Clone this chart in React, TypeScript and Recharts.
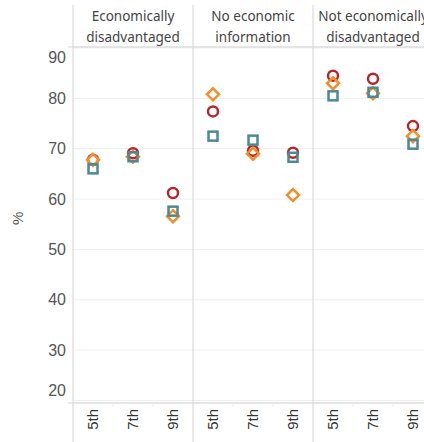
import React from "react";
import { ComposedChart, Scatter, XAxis, YAxis, CartesianGrid, usePlotArea } from "recharts";

const panels = ["Economically disadvantaged", "No economic information", "Not economically disadvantaged"];
const panelHeaderLines = [
  ["Economically", "disadvantaged"],
  ["No economic", "information"],
  ["Not economically", "disadvantaged"],
];
const grades = ["5th", "7th", "9th"];

// one value per panel/grade, in reading order
const circleValues = [67.8, 69.1, 61.2, 77.4, 69.6, 69.2, 84.5, 83.9, 74.5];
const diamondValues = [67.8, 68.4, 56.6, 80.8, 69.0, 60.8, 83.0, 81.0, 72.5];
const squareValues = [66.0, 68.4, 57.6, 72.5, 71.7, 68.3, 80.5, 81.2, 70.9];

const yTicks = [20, 30, 40, 50, 60, 70, 80, 90];

const data = panels.flatMap((panel, i) =>
  grades.map((grade, j) => ({
    key: panel + "|" + grade,
    panel,
    grade,
    circle: circleValues[i * 3 + j],
    diamond: diamondValues[i * 3 + j],
    square: squareValues[i * 3 + j],
  }))
);

const RED = "#b8262d";
const ORANGE = "#f28e2b";
const TEAL = "#4b8a94";
const LINE = "#d3d3d3";
const SANS = "Liberation Sans, Arial, sans-serif";

const CircleShape = (p: any) => (
  <circle cx={p.cx} cy={p.cy} r={5} fill="none" stroke={RED} strokeWidth={2.5} />
);
const DiamondShape = (p: any) => {
  const s = 6;
  return (
    <path
      d={`M${p.cx},${p.cy - s}L${p.cx + s},${p.cy}L${p.cx},${p.cy + s}L${p.cx - s},${p.cy}Z`}
      fill="none"
      stroke={ORANGE}
      strokeWidth={2.5}
    />
  );
};
const SquareShape = (p: any) => (
  <rect x={p.cx - 4.5} y={p.cy - 4.5} width={9} height={9} fill="none" stroke={TEAL} strokeWidth={2.5} />
);

const YTick = ({ x, y, payload }: any) => {
  const v = payload.value;
  const shift = v === 90 ? 9 : v === 20 ? -10 : 0;
  return (
    <text x={x + 1} y={y + shift} dy="0.35em" textAnchor="end" fill="#555" style={{ fontSize: 16, fontFamily: SANS }}>
      {v}
    </text>
  );
};

const GradeTick = ({ x, y, payload }: any) => {
  const g = payload.value.split("|")[1];
  const ty = y - 2;
  return (
    <text
      x={x}
      y={ty}
      dy="0.35em"
      textAnchor="end"
      transform={`rotate(-90, ${x}, ${ty})`}
      fill="#333"
      style={{ fontSize: 15, fontFamily: SANS }}
    >
      {g}
    </text>
  );
};

const PanelTick = ({ x, payload }: any) => {
  const idx = panels.indexOf(payload.value);
  const lines = panelHeaderLines[idx] || [payload.value];
  return (
    <text x={x} textAnchor="middle" fill="#444" style={{ fontSize: 13.5, fontFamily: "Noto Sans, sans-serif" }}>
      {lines.map((l, k) => (
        <tspan key={k} x={x} y={21 + k * 21}>
          {l}
        </tspan>
      ))}
    </text>
  );
};

function Frame() {
  const area = usePlotArea();
  if (!area) return null;
  const { x, y, width, height } = area;
  const cols = [0, 1, 2, 3].map((i) => x + (i * width) / 3);
  const bands = [1, 2, 4, 5, 7, 8].map((i) => x + (i * width) / 9);
  return (
    <g>
      <line x1={x - 5} x2={x + width} y1={y} y2={y} stroke={LINE} />
      <line x1={x - 5} x2={x + width} y1={y + height} y2={y + height} stroke={LINE} />
      {bands.map((bx, i) => (
        <line key={"b" + i} x1={bx} x2={bx} y1={y + height} y2={y + height + 4} stroke="#ececec" />
      ))}
      {cols.map((cx, i) => (
        <line key={i} x1={cx} x2={cx} y1={5} y2={442} stroke={LINE} />
      ))}
    </g>
  );
}

export default function App() {
  return (
    <div style={{ position: "absolute", left: 0, top: 0, width: 424, height: 442, overflow: "hidden", background: "#fff" }}>
      <ComposedChart width={433} height={442} data={data} margin={{ top: 5, right: 0, bottom: 0, left: 0 }}>
        <CartesianGrid horizontal vertical={false} stroke="#efefef" xAxisId="grade" />
        <XAxis
          xAxisId="grade"
          dataKey="key"
          type="category"
          scale="band"
          height={39}
          tick={<GradeTick />}
          tickLine={false}
          axisLine={false}
          interval={0}
        />
        <XAxis
          xAxisId="panel"
          dataKey="panel"
          orientation="top"
          type="category"
          scale="band"
          allowDuplicatedCategory={false}
          ticks={panels}
          height={42}
          tick={<PanelTick />}
          tickLine={false}
          axisLine={false}
          interval={0}
        />
        <YAxis
          type="number"
          domain={[19.5, 90.2]}
          ticks={yTicks}
          width={73}
          tick={<YTick />}
          tickLine={false}
          axisLine={false}
          allowDataOverflow
          label={{ value: "%", angle: -90, position: "insideLeft", offset: 18, style: { fill: "#555", fontSize: 15, fontFamily: SANS } }}
        />
        <Frame />
        <Scatter xAxisId="grade" dataKey="circle" shape={CircleShape} isAnimationActive={false} />
        <Scatter xAxisId="grade" dataKey="diamond" shape={DiamondShape} isAnimationActive={false} />
        <Scatter xAxisId="grade" dataKey="square" shape={SquareShape} isAnimationActive={false} />
      </ComposedChart>
    </div>
  );
}
